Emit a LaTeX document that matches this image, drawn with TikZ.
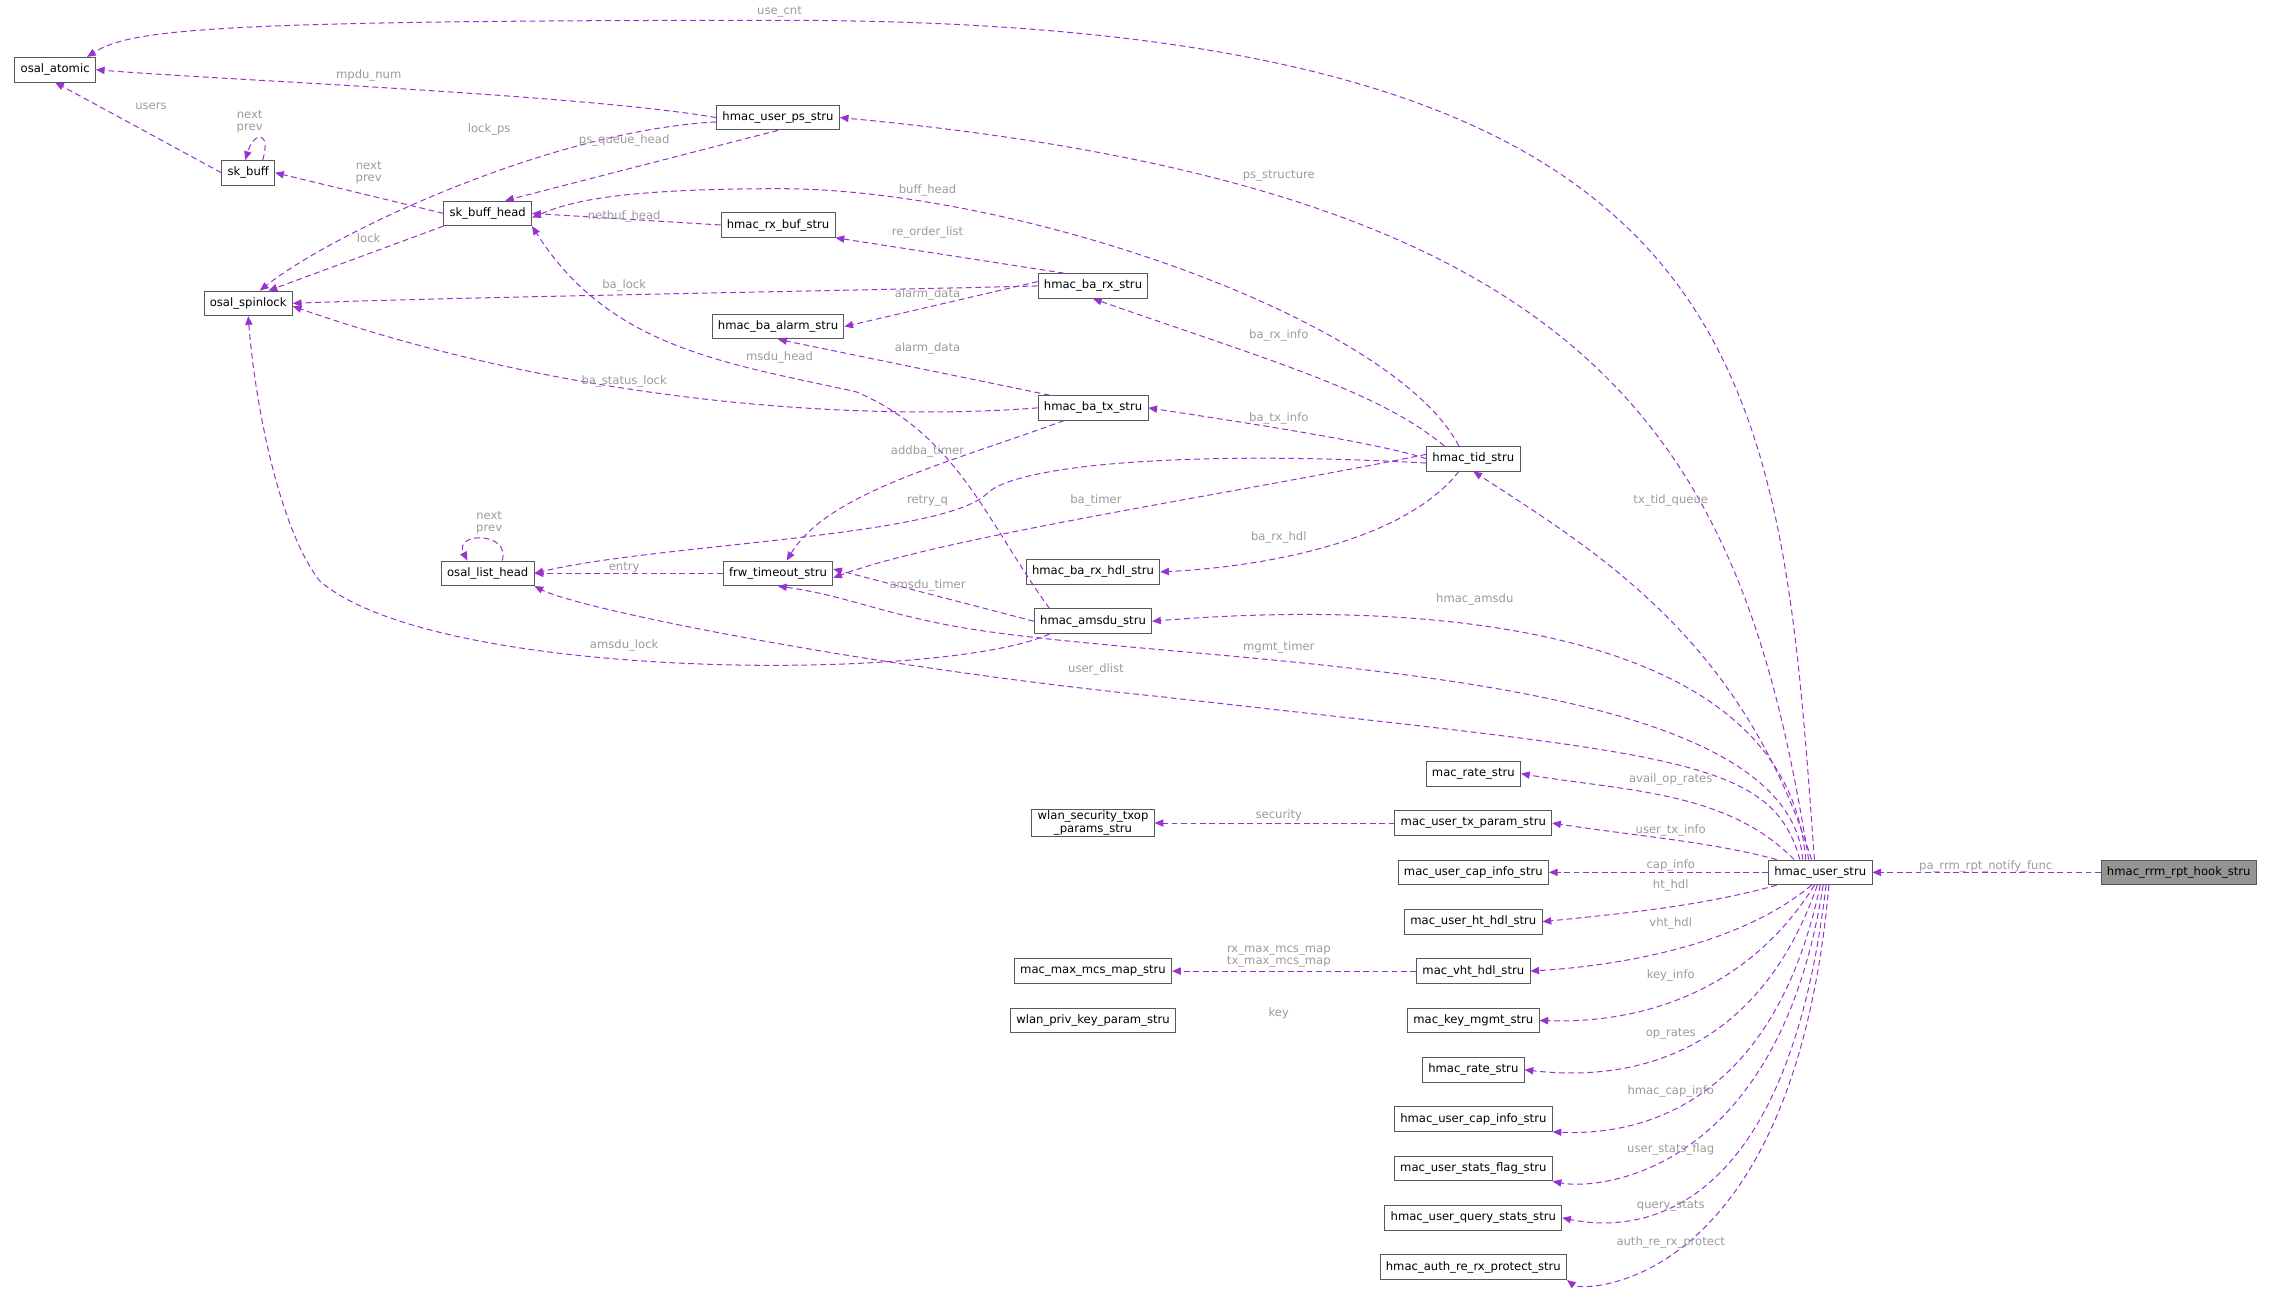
\documentclass[tikz,border=0pt]{standalone}
\usepackage{fontspec}
\setmainfont{DejaVu Sans}
\usetikzlibrary{arrows.meta}
\definecolor{ec}{HTML}{9A32CD}
\definecolor{lc}{HTML}{9A9A9A}
\begin{document}
\begin{tikzpicture}[x=1pt,y=-1pt,
 box/.style={draw=black!65,line width=0.6pt,fill=white,minimum height=17pt,inner xsep=4pt,inner ysep=1pt,font=\fontsize{8}{9}\selectfont,align=center},
 e/.style={draw=ec,dashed,dash pattern=on 4pt off 2.5pt,line width=0.7pt,-{Triangle[length=6pt,width=5pt]}},
 lab/.style={text=lc,font=\fontsize{8}{8.5}\selectfont,align=center,inner sep=0pt}]
\useasboundingbox (0,0) rectangle (1568,893);
\node[box] (oa) at (38,48) {osal\_atomic};
\node[box] (hps) at (536,81) {hmac\_user\_ps\_stru};
\node[box] (sb) at (171,119) {sk\_buff};
\node[box] (sbh) at (336,147) {sk\_buff\_head};
\node[box] (hrb) at (536,155) {hmac\_rx\_buf\_stru};
\node[box] (os) at (171,209) {osal\_spinlock};
\node[box] (bar) at (753,197) {hmac\_ba\_rx\_stru};
\node[box] (baa) at (536,225) {hmac\_ba\_alarm\_stru};
\node[box] (bat) at (753,281) {hmac\_ba\_tx\_stru};
\node[box] (tid) at (1015,316) {hmac\_tid\_stru};
\node[box] (olh) at (336,395) {osal\_list\_head};
\node[box] (frw) at (536,395) {frw\_timeout\_stru};
\node[box] (brh) at (753,394) {hmac\_ba\_rx\_hdl\_stru};
\node[box] (ams) at (753,428) {hmac\_amsdu\_stru};
\node[box] (mrs) at (1015,533) {mac\_rate\_stru};
\node[box] (wst) at (753,567) {wlan\_security\_txop\\\_params\_stru};
\node[box] (utx) at (1015,567) {mac\_user\_tx\_param\_stru};
\node[box] (uci) at (1015,601) {mac\_user\_cap\_info\_stru};
\node[box] (hu) at (1254,601) {hmac\_user\_stru};
\node[box,fill=black!42] (rrm) at (1501,601) {hmac\_rrm\_rpt\_hook\_stru};
\node[box] (uht) at (1015,635) {mac\_user\_ht\_hdl\_stru};
\node[box] (mmm) at (753,669) {mac\_max\_mcs\_map\_stru};
\node[box] (vht) at (1015,669) {mac\_vht\_hdl\_stru};
\node[box] (wpk) at (753,703) {wlan\_priv\_key\_param\_stru};
\node[box] (kmg) at (1015,703) {mac\_key\_mgmt\_stru};
\node[box] (hrs) at (1015,737) {hmac\_rate\_stru};
\node[box] (hci) at (1015,771) {hmac\_user\_cap\_info\_stru};
\node[box] (usf) at (1015,805) {mac\_user\_stats\_flag\_stru};
\node[box] (uqs) at (1015,839) {hmac\_user\_query\_stats\_stru};
\node[box] (aur) at (1015,873) {hmac\_auth\_re\_rx\_protect\_stru};
% edges
\draw[e] ([xshift=-4pt]hu.north) .. controls (1225,250) and (1215,14) .. (537,14) .. controls (150,14) and (90,20) .. ([xshift=22pt]oa.north);
\draw[e] (hps.west) .. controls (400,65) and (150,55) .. (oa.east);
\draw[e] (sb.west) -- (oa.south);
\draw[e] ([xshift=10pt]sb.north) .. controls +(6,-20) and +(6,-20) .. ([xshift=-2pt]sb.north);
\draw[e] (sbh.west) -- (sb.east);
\draw[e] ([yshift=-3pt]hps.west) .. controls (380,90) and (230,160) .. ([xshift=8pt]os.north);
\draw[e] (hps.south) -- ([xshift=12pt]sbh.north);
\draw[e] (sbh.south west) -- ([xshift=14pt]os.north);
\draw[e] (hrb.west) -- (sbh.east);
\draw[e] ([xshift=-10pt]tid.north) .. controls (960,220) and (700,130) .. (537,130) .. controls (420,130) and (390,140) .. ([yshift=-3pt]sbh.east);
\draw[e] ([xshift=-8pt]hu.north) .. controls (1200,300) and (1100,130) .. (hps.east);
\draw[e] ([xshift=-20pt]bar.north) -- (hrb.south east);
\draw[e] (bar.west) .. controls (600,200) and (300,205) .. (os.east);
\draw[e] ([yshift=3pt]bar.west) -- (baa.east);
\draw[e] ([xshift=-30pt]bat.north) -- (baa.south);
\draw[e] ([xshift=-30pt]ams.north) .. controls (680,360) and (660,300) .. (590,270) .. controls (500,250) and (420,240) .. (sbh.south east);
\draw[e] (bat.west) .. controls (600,290) and (400,280) .. ([yshift=-2pt]os.east);
\draw[e] ([xshift=-20pt]tid.north) .. controls (950,270) and (880,250) .. (bar.south);
\draw[e] (tid.west) .. controls (950,305) and (850,290) .. (bat.east);
\draw[e] ([xshift=-20pt]bat.south) .. controls (650,320) and (570,340) .. ([xshift=6pt]frw.north);
\draw[e] ([yshift=-3pt]tid.west) .. controls (820,310) and (700,320) .. (680,340) .. controls (650,370) and (450,375) .. (olh.east);
\draw[e] ([yshift=3pt]tid.west) .. controls (850,340) and (650,370) .. ([yshift=-3pt]frw.east);
\draw[e] ([xshift=-10pt]tid.south) .. controls (970,370) and (880,390) .. (brh.east);
\draw[e] ([xshift=10pt]olh.north) .. controls +(6,-20) and +(-10,-20) .. ([xshift=-14pt]olh.north);
\draw[e] (frw.west) -- (olh.east);
\draw[e] (ams.west) -- ([yshift=3pt]frw.east);
\draw[e] ([xshift=-30pt]ams.south) .. controls (650,470) and (300,470) .. (220,400) .. controls (190,360) and (175,270) .. (os.south);
\draw[e] ([xshift=-6pt]hu.north) .. controls (1200,440) and (1100,380) .. (tid.south);
\draw[e] ([xshift=-10pt]hu.north) .. controls (1230,420) and (950,415) .. (ams.east);
\draw[e] ([xshift=-12pt]hu.north) .. controls (1230,450) and (800,460) .. (650,430) .. controls (600,420) and (580,410) .. (frw.south);
\draw[e] ([xshift=-14pt]hu.north) .. controls (1220,520) and (1150,520) .. (800,480) .. controls (600,460) and (400,420) .. (olh.south east);
\draw[e] ([xshift=-18pt]hu.north) .. controls (1190,545) and (1120,545) .. (mrs.east);
\draw[e] (utx.west) -- (wst.east);
\draw[e] ([xshift=-30pt]hu.north) .. controls (1180,580) and (1120,575) .. (utx.east);
\draw[e] (hu.west) -- (uci.east);
\draw[e] ([xshift=-30pt]hu.south) .. controls (1170,625) and (1110,630) .. (uht.east);
\draw[e] ([xshift=-6pt]hu.south) .. controls (1200,650) and (1120,665) .. (vht.east);
\draw[e] (vht.west) -- (mmm.east);
\draw[e] ([xshift=-4pt]hu.south) .. controls (1200,690) and (1120,705) .. (kmg.east);
\draw[e] ([xshift=-2pt]hu.south) .. controls (1210,730) and (1120,745) .. (hrs.east);
\draw[e] (hu.south) .. controls (1220,770) and (1120,782) .. (hci.south east);
\draw[e] ([xshift=2pt]hu.south) .. controls (1225,810) and (1100,820) .. (usf.south east);
\draw[e] ([xshift=4pt]hu.south) .. controls (1230,850) and (1120,848) .. (uqs.east);
\draw[e] ([xshift=6pt]hu.south) .. controls (1235,890) and (1090,890) .. (aur.south east);
\draw[e] (rrm.west) -- (hu.east);
% labels
\node[lab] at (537,8) {use\_cnt};
\node[lab] at (254,52) {mpdu\_num};
\node[lab] at (104,73) {users};
\node[lab] at (172,84) {next\\prev};
\node[lab] at (254,119) {next\\prev};
\node[lab] at (337,89) {lock\_ps};
\node[lab] at (430,97) {ps\_queue\_head};
\node[lab] at (254,164) {lock};
\node[lab] at (430,149) {netbuf\_head};
\node[lab] at (639,131) {buff\_head};
\node[lab] at (881,121) {ps\_structure};
\node[lab] at (639,160) {re\_order\_list};
\node[lab] at (430,197) {ba\_lock};
\node[lab] at (639,203) {alarm\_data};
\node[lab] at (639,240) {alarm\_data};
\node[lab] at (537,246) {msdu\_head};
\node[lab] at (430,263) {ba\_status\_lock};
\node[lab] at (881,231) {ba\_rx\_info};
\node[lab] at (881,288) {ba\_tx\_info};
\node[lab] at (639,311) {addba\_timer};
\node[lab] at (639,345) {retry\_q};
\node[lab] at (755,345) {ba\_timer};
\node[lab] at (881,370) {ba\_rx\_hdl};
\node[lab] at (337,360) {next\\prev};
\node[lab] at (430,391) {entry};
\node[lab] at (639,403) {amsdu\_timer};
\node[lab] at (430,445) {amsdu\_lock};
\node[lab] at (1151,345) {tx\_tid\_queue};
\node[lab] at (1016,413) {hmac\_amsdu};
\node[lab] at (881,446) {mgmt\_timer};
\node[lab] at (755,461) {user\_dlist};
\node[lab] at (1151,537) {avail\_op\_rates};
\node[lab] at (881,562) {security};
\node[lab] at (1151,572) {user\_tx\_info};
\node[lab] at (1151,596) {cap\_info};
\node[lab] at (1151,610) {ht\_hdl};
\node[lab] at (1151,636) {vht\_hdl};
\node[lab] at (881,659) {rx\_max\_mcs\_map\\tx\_max\_mcs\_map};
\node[lab] at (1151,672) {key\_info};
\node[lab] at (881,698) {key};
\node[lab] at (1151,712) {op\_rates};
\node[lab] at (1151,752) {hmac\_cap\_info};
\node[lab] at (1151,792) {user\_stats\_flag};
\node[lab] at (1151,831) {query\_stats};
\node[lab] at (1151,856) {auth\_re\_rx\_protect};
\node[lab] at (1368,597) {pa\_rrm\_rpt\_notify\_func};
\end{tikzpicture}
\end{document}
